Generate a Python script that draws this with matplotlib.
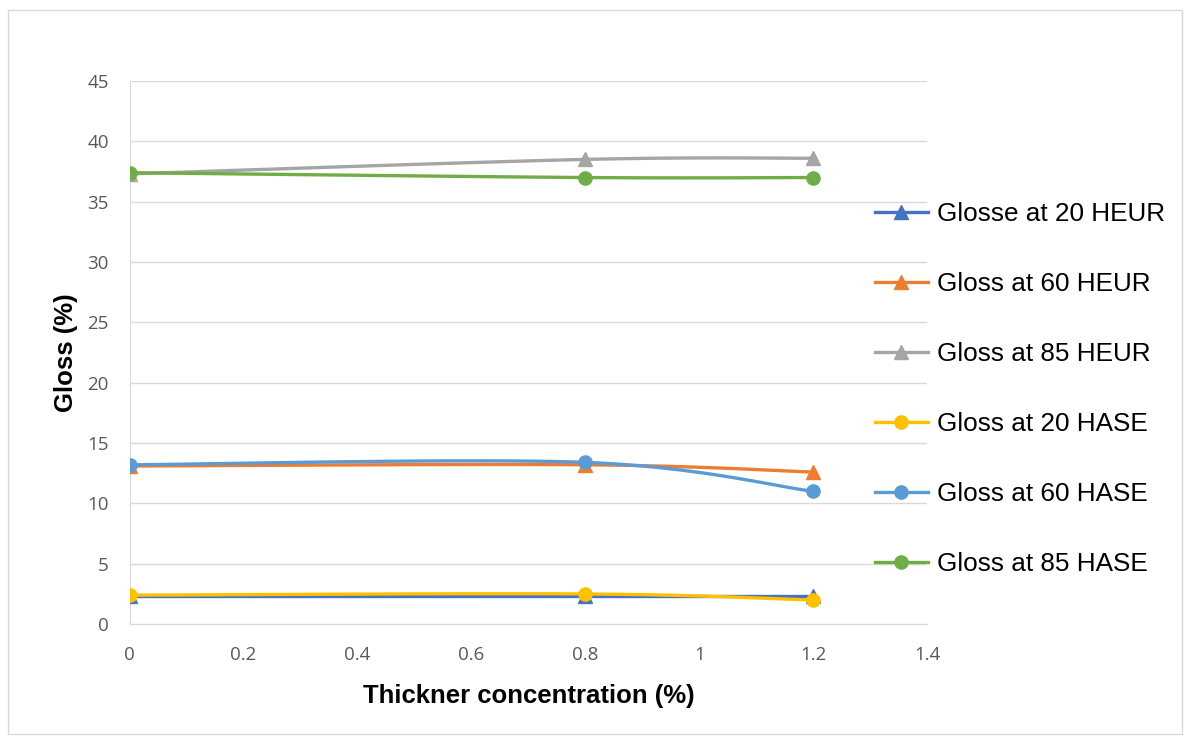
import matplotlib
matplotlib.use('Agg')
import numpy as np
import matplotlib.pyplot as plt

# Data
conc = [0, 0.8, 1.2]
gloss_20_heur = [2.3, 2.3, 2.3]
gloss_60_heur = [13.1, 13.2, 12.6]
gloss_85_heur = [37.3, 38.5, 38.6]
gloss_20_hase = [2.4, 2.5, 2.0]
gloss_60_hase = [13.2, 13.4, 11.0]
gloss_85_hase = [37.4, 37.0, 37.0]

labels = ['Glosse at 20 HEUR', 'Gloss at 60 HEUR', 'Gloss at 85 HEUR',
          'Gloss at 20 HASE', 'Gloss at 60 HASE', 'Gloss at 85 HASE']
colors = ['#4472C4', '#ED7D31', '#A5A5A5', '#FFC000', '#5B9BD5', '#70AD47']
markers = ['^', '^', '^', 'o', 'o', 'o']
xticks = [0, 0.2, 0.4, 0.6, 0.8, 1, 1.2, 1.4]
xticklabels = ['0', '0.2', '0.4', '0.6', '0.8', '1', '1.2', '1.4']


def smooth(x, y, n=40, t=0.5):
    # cardinal spline through the points, like Excel's smoothed line
    x = np.asarray(x, float)
    y = np.asarray(y, float)
    px = np.concatenate([[x[0]], x, [x[-1]]])
    py = np.concatenate([[y[0]], y, [y[-1]]])
    xs, ys = [], []
    for i in range(1, len(px) - 2):
        p0, p1, p2, p3 = (np.array([px[j], py[j]]) for j in range(i - 1, i + 3))
        m1 = (p2 - p0) * t
        m2 = (p3 - p1) * t
        s = np.linspace(0, 1, n)
        h00 = 2*s**3 - 3*s**2 + 1
        h10 = s**3 - 2*s**2 + s
        h01 = -2*s**3 + 3*s**2
        h11 = s**3 - s**2
        pts = (np.outer(h00, p1) + np.outer(h10, m1) + np.outer(h01, p2) + np.outer(h11, m2))
        xs.extend(pts[:, 0])
        ys.extend(pts[:, 1])
    return xs, ys


plt.rcParams['font.family'] = ['Liberation Sans', 'DejaVu Sans']
fig = plt.figure(figsize=(11.9, 7.36), dpi=100)
fig.patches.append(plt.Rectangle((0.007, 0.003), 0.986, 0.984, transform=fig.transFigure,
                                 fill=False, edgecolor='#D9D9D9', linewidth=1))
ax = fig.add_axes([0.109, 0.152, 0.670, 0.738])

series = [gloss_20_heur, gloss_60_heur, gloss_85_heur,
          gloss_20_hase, gloss_60_hase, gloss_85_hase]
for vals, lab, c, m in zip(series, labels, colors, markers):
    sx, sy = smooth(conc, vals)
    ax.plot(sx, sy, color=c, lw=2.4, solid_capstyle='round', zorder=3)
    ax.plot(conc, vals, linestyle='none', marker=m, color=c, markersize=9.5, zorder=4)
    ax.plot([], [], color=c, lw=2.4, marker=m, markersize=9.5, label=lab)

ax.set_xlim(0, 1.4)
ax.set_ylim(0, 45)
ax.set_xticks(xticks)
ax.set_xticklabels(xticklabels)
ax.set_yticks(range(0, 50, 5))
ax.grid(axis='y', color='#D9D9D9', lw=1)
ax.set_axisbelow(True)
for s in ['top', 'right']:
    ax.spines[s].set_visible(False)
ax.spines['left'].set_color('#D9D9D9')
ax.spines['bottom'].set_color('#D9D9D9')
ax.tick_params(length=0, labelsize=13.5, labelcolor='#595959')
ax.tick_params(axis='x', pad=16)
ax.tick_params(axis='y', pad=15)
for t in ax.get_xticklabels() + ax.get_yticklabels():
    t.set_family(['Open Sans', 'DejaVu Sans'])
ax.set_xlabel('Thickner concentration (%)', fontsize=18.5, fontweight='bold', labelpad=14)
ax.set_ylabel('Gloss (%)', fontsize=18.5, fontweight='bold', labelpad=7)

ax.legend(loc='upper left', bbox_to_anchor=(0.735, 0.725), bbox_transform=fig.transFigure,
          frameon=False, fontsize=18.8, handlelength=2.05, handletextpad=0.35,
          labelspacing=1.76, borderaxespad=0, borderpad=0)

fig.savefig('out.png', dpi=100)
